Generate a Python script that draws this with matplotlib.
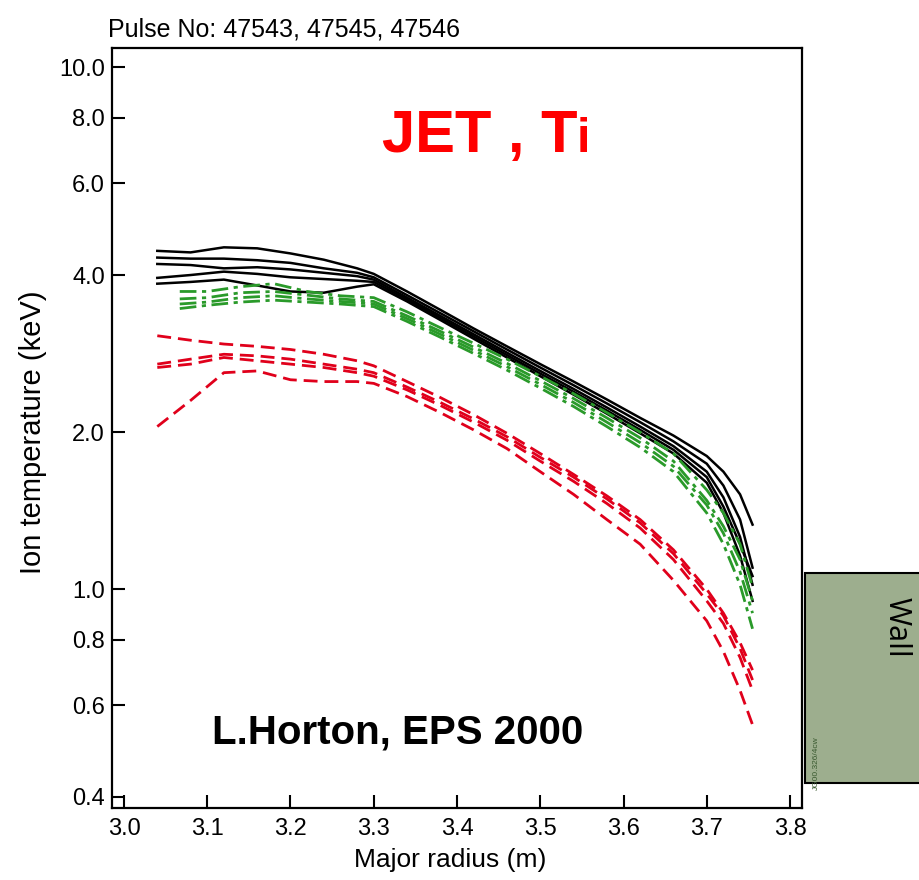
import matplotlib
matplotlib.use("Agg")
import matplotlib.pyplot as plt
from matplotlib.patches import Rectangle
import numpy as np

plt.rcParams['font.family'] = ['Liberation Sans', 'DejaVu Sans']

# ---------------- data ----------------
title = "Pulse No: 47543, 47545, 47546"
x_ticks = [3.0, 3.1, 3.2, 3.3, 3.4, 3.5, 3.6, 3.7, 3.8]
x_tick_labels = ["3.0", "3.1", "3.2", "3.3", "3.4", "3.5", "3.6", "3.7", "3.8"]
y_ticks = [0.4, 0.6, 0.8, 1.0, 2.0, 4.0, 6.0, 8.0, 10.0]
y_tick_labels = ["0.4", "0.6", "0.8", "1.0", "2.0", "4.0", "6.0", "8.0", "10.0"]

R_black = [3.04, 3.08, 3.12, 3.16, 3.20, 3.24, 3.28, 3.30, 3.34, 3.38, 3.42,
           3.46, 3.50, 3.54, 3.58, 3.62, 3.66, 3.70, 3.72, 3.74, 3.755]
Ti_black = [
    [4.45, 4.42, 4.52, 4.50, 4.40, 4.28, 4.12, 4.02, 3.72, 3.43, 3.16, 2.92, 2.70, 2.50, 2.31, 2.13, 1.97, 1.80, 1.68, 1.52, 1.33],
    [4.32, 4.30, 4.30, 4.27, 4.22, 4.12, 4.04, 3.96, 3.66, 3.38, 3.12, 2.88, 2.66, 2.46, 2.27, 2.09, 1.92, 1.74, 1.58, 1.36, 1.10],
    [4.20, 4.18, 4.12, 4.14, 4.10, 4.04, 3.98, 3.92, 3.62, 3.34, 3.08, 2.84, 2.62, 2.42, 2.23, 2.05, 1.88, 1.68, 1.50, 1.26, 1.02],
    [3.95, 4.00, 4.06, 4.02, 3.96, 3.93, 3.90, 3.88, 3.59, 3.31, 3.05, 2.81, 2.59, 2.39, 2.20, 2.02, 1.85, 1.64, 1.44, 1.22, 1.06],
    [3.85, 3.88, 3.92, 3.82, 3.72, 3.70, 3.80, 3.84, 3.56, 3.28, 3.02, 2.78, 2.56, 2.36, 2.17, 1.99, 1.82, 1.60, 1.40, 1.16, 0.95],
]

R_green = [3.067, 3.10, 3.14, 3.18, 3.22, 3.26, 3.30, 3.34, 3.38, 3.42, 3.46,
           3.50, 3.54, 3.58, 3.62, 3.66, 3.70, 3.72, 3.74, 3.755]
Ti_green = [
    [3.72, 3.72, 3.80, 3.85, 3.72, 3.65, 3.62, 3.40, 3.17, 2.96, 2.76, 2.56, 2.37, 2.18, 2.00, 1.82, 1.55, 1.40, 1.22, 1.01],
    [3.60, 3.62, 3.70, 3.72, 3.66, 3.60, 3.56, 3.34, 3.12, 2.91, 2.71, 2.51, 2.32, 2.13, 1.95, 1.76, 1.48, 1.32, 1.14, 0.95],
    [3.52, 3.55, 3.62, 3.65, 3.60, 3.56, 3.52, 3.30, 3.08, 2.87, 2.67, 2.47, 2.28, 2.09, 1.91, 1.72, 1.45, 1.28, 1.08, 0.90],
    [3.45, 3.50, 3.55, 3.58, 3.55, 3.52, 3.48, 3.26, 3.04, 2.83, 2.63, 2.43, 2.24, 2.05, 1.87, 1.68, 1.40, 1.22, 1.02, 0.84],
]

R_red = [3.04, 3.08, 3.12, 3.16, 3.20, 3.24, 3.28, 3.30, 3.34, 3.38, 3.42,
         3.46, 3.50, 3.54, 3.58, 3.62, 3.66, 3.70, 3.72, 3.74, 3.755]
Ti_red = [
    [3.06, 3.00, 2.95, 2.92, 2.88, 2.82, 2.74, 2.68, 2.50, 2.33, 2.16, 1.99, 1.82, 1.66, 1.51, 1.36, 1.19, 1.00, 0.90, 0.79, 0.70],
    [2.70, 2.76, 2.82, 2.80, 2.76, 2.70, 2.64, 2.60, 2.44, 2.28, 2.12, 1.96, 1.79, 1.64, 1.49, 1.34, 1.17, 0.98, 0.89, 0.77, 0.67],
    [2.66, 2.70, 2.78, 2.74, 2.70, 2.66, 2.60, 2.56, 2.41, 2.25, 2.09, 1.93, 1.76, 1.61, 1.46, 1.31, 1.14, 0.95, 0.86, 0.74, 0.64],
    [2.05, 2.30, 2.60, 2.62, 2.52, 2.50, 2.50, 2.48, 2.34, 2.18, 2.02, 1.86, 1.68, 1.52, 1.36, 1.22, 1.04, 0.87, 0.76, 0.64, 0.55],
]

# ---------------- figure ----------------
W, H = 919, 880
fig = plt.figure(figsize=(W / 100, H / 100), dpi=100)
fig.patch.set_facecolor('white')

def fx(px):
    return px / W

def fy(py):
    return 1 - py / H

ax = fig.add_axes([fx(112), fy(808), fx(802) - fx(112), fy(48) - fy(808)])
ax.set_yscale('log')
ax.set_xlim(2.9856, 3.8144)
ax.set_ylim(0.381, 10.89)

for vals in Ti_black:
    ax.plot(R_black, vals, color='black', lw=1.8, ls='-')
for vals in Ti_green:
    ax.plot(R_green, vals, color='#2a9a2a', lw=2.0, ls=(0, (6, 2, 1.5, 2)))
for vals in Ti_red:
    ax.plot(R_red, vals, color='#e0001b', lw=2.0, ls=(0, (5, 2.5)))

ax.set_xticks(x_ticks)
ax.set_xticklabels(x_tick_labels)
ax.set_yticks(y_ticks)
ax.set_yticklabels(y_tick_labels)
ax.minorticks_off()
ax.tick_params(axis='both', direction='in', length=9.5, width=1.5,
               labelsize=17, top=False, right=False)
ax.tick_params(axis='x', pad=7)
ax.tick_params(axis='y', pad=5)
for sp in ax.spines.values():
    sp.set_linewidth(1.6)

fig.text(fx(33), fy(432), "Ion temperature (keV)", rotation=90,
         ha='center', va='center', fontsize=21)
fig.text(fx(450), fy(860), "Major radius (m)", ha='center', va='center', fontsize=19)
fig.text(fx(108), fy(37), title, ha='left', va='baseline', fontsize=18)

fig.text(fx(382), fy(152), "JET , T", ha='left', va='baseline',
         fontsize=43, fontweight='bold', color='#ff0000')
fig.text(fx(577), fy(152), "i", ha='left', va='baseline',
         fontsize=35, fontweight='bold', color='#ff0000')
fig.text(fx(212), fy(743), "L.Horton, EPS 2000", ha='left', va='baseline',
         fontsize=29, fontweight='bold', color='black')

# Wall box
fig.patches.append(Rectangle((fx(805), fy(783)), fx(919) - fx(805) + 0.01,
                             fy(573) - fy(783), transform=fig.transFigure,
                             facecolor='#9dae8e', edgecolor='black', lw=1.5,
                             figure=fig, clip_on=False))
fig.text(fx(897), fy(597), "Wall", rotation=-90, ha='center', va='top',
         fontsize=22, family=['Open Sans', 'DejaVu Sans'], color='black')
fig.text(fx(816), fy(790), "JG00.326/4cw", rotation=90, ha='center', va='bottom',
         fontsize=6, color='#3a5a30')

fig.savefig("out.png", dpi=100)
